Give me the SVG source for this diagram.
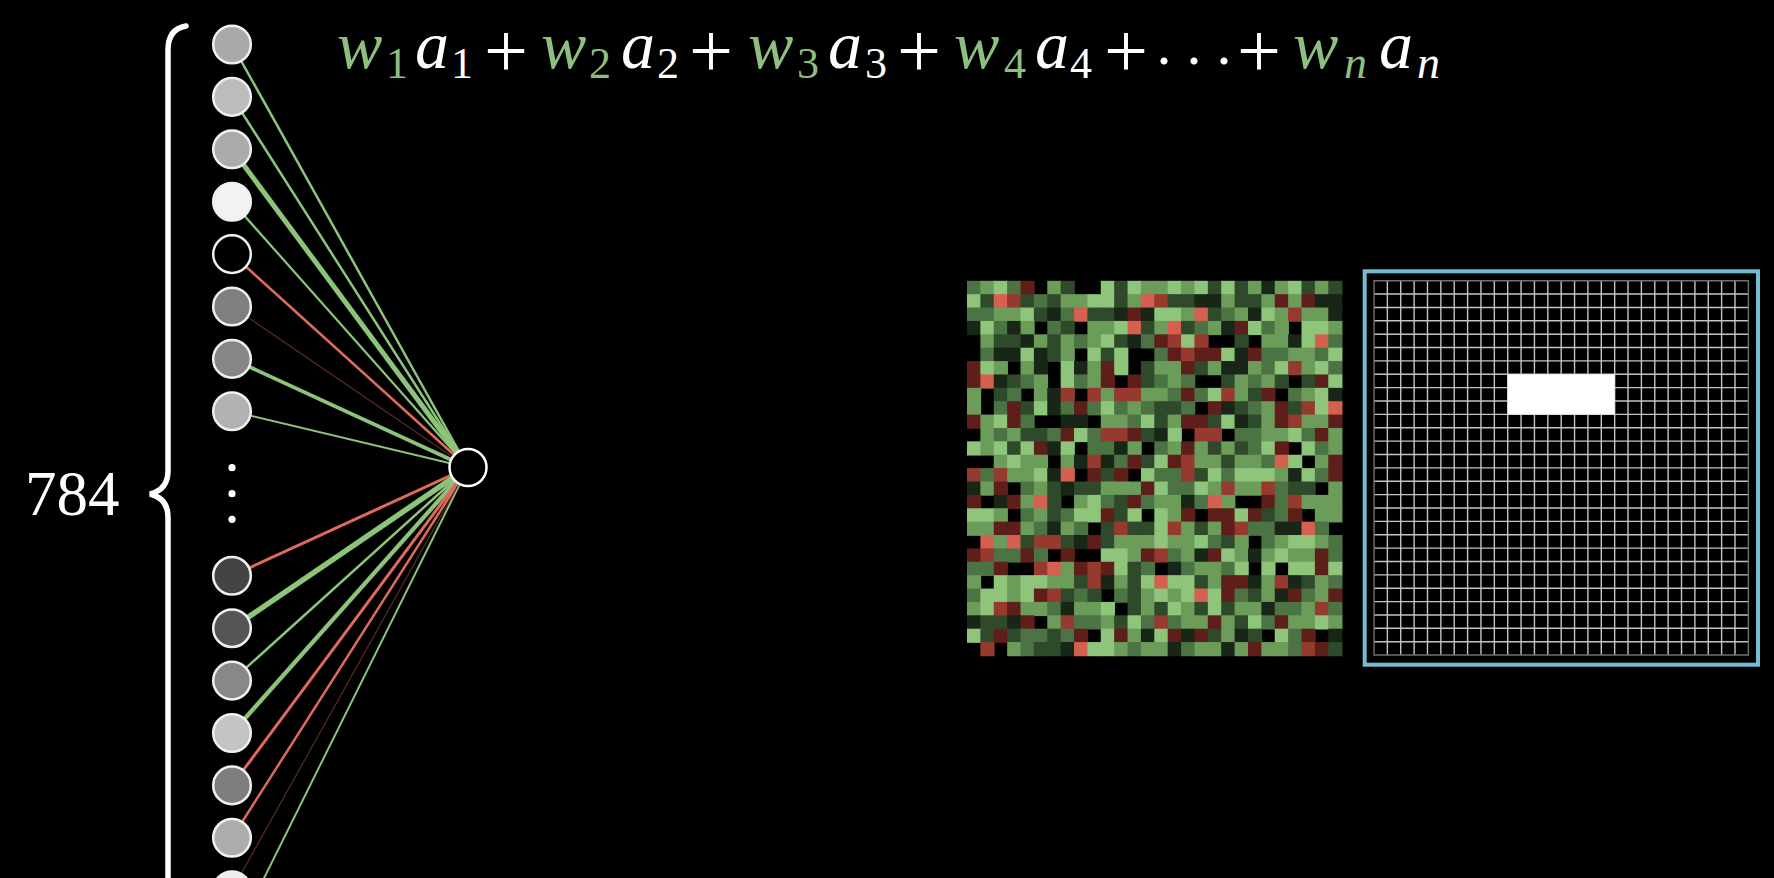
<svg xmlns="http://www.w3.org/2000/svg" width="1774" height="878" viewBox="0 0 1774 878">
<defs>
<rect id="cL" width="1.06" height="1.06" fill="#8ec57b"/>
<rect id="cM" width="1.06" height="1.06" fill="#6c9c5a"/>
<rect id="cG" width="1.06" height="1.06" fill="#4c7344"/>
<rect id="cD" width="1.06" height="1.06" fill="#2f4a2a"/>
<rect id="cK" width="1.06" height="1.06" fill="#172616"/>
<rect id="cr" width="1.06" height="1.06" fill="#5e1f1b"/>
<rect id="cR" width="1.06" height="1.06" fill="#96392f"/>
<rect id="cP" width="1.06" height="1.06" fill="#d5604f"/>
</defs>
<rect width="1774" height="878" fill="#000"/>

<text font-family="Times New Roman" fill="#fff" x="25" y="515" font-size="63">784</text>

<g font-family="Liberation Serif">
<g font-style="italic" font-size="68">
<text fill="#8fbf7e" x="337" y="68">w</text>
<text fill="#ffffff" x="415" y="68">a</text>
<text fill="#8fbf7e" x="541" y="68">w</text>
<text fill="#ffffff" x="621" y="68">a</text>
<text fill="#8fbf7e" x="748" y="68">w</text>
<text fill="#ffffff" x="828" y="68">a</text>
<text fill="#8fbf7e" x="954" y="68">w</text>
<text fill="#ffffff" x="1035" y="68">a</text>
<text fill="#8fbf7e" x="1293" y="68">w</text>
<text fill="#ffffff" x="1379" y="68">a</text>
</g>
<g font-size="44">
<text fill="#8fbf7e" x="386" y="78">1</text>
<text fill="#ffffff" x="451" y="78">1</text>
<text fill="#8fbf7e" x="589" y="78">2</text>
<text fill="#ffffff" x="657" y="78">2</text>
<text fill="#8fbf7e" x="797" y="78">3</text>
<text fill="#ffffff" x="865" y="78">3</text>
<text fill="#8fbf7e" x="1004" y="78">4</text>
<text fill="#ffffff" x="1070" y="78">4</text>
</g>
<g font-size="46" font-style="italic">
<text fill="#8fbf7e" x="1344" y="78">n</text>
<text fill="#ffffff" x="1417" y="78">n</text>
</g>
<g font-size="78" fill="#ffffff" text-anchor="middle">
<text x="506" y="77">+</text>
<text x="711" y="77">+</text>
<text x="919" y="77">+</text>
<text x="1126" y="77">+</text>
<text x="1259" y="77">+</text>
</g>
<text fill="#ffffff" x="1164 1194 1224" y="64" font-size="60" text-anchor="middle">...</text>
</g>

<g id="connectors" fill="none">
<g stroke="#8cc47a">
<line stroke-width="2.5" x1="232" y1="44.5" x2="468" y2="467.5"/>
<line stroke-width="2.5" x1="232" y1="96.9" x2="468" y2="467.5"/>
<line stroke-width="5" x1="232" y1="149.3" x2="468" y2="467.5"/>
<line stroke-width="2.2" x1="232" y1="201.7" x2="468" y2="467.5"/>
<line stroke-width="3.8" x1="232" y1="358.9" x2="468" y2="467.5"/>
<line stroke-width="1.8" x1="232" y1="411.3" x2="468" y2="467.5"/>
<line stroke-width="5.5" x1="232" y1="628.2" x2="468" y2="467.5"/>
<line stroke-width="2.5" x1="232" y1="680.6" x2="468" y2="467.5"/>
<line stroke-width="4.2" x1="232" y1="733" x2="468" y2="467.5"/>
<line stroke-width="2" x1="232" y1="942.6" x2="468" y2="467.5"/>
</g>
<g stroke="#dd6b5c">
<line stroke-width="2.5" x1="232" y1="254.1" x2="468" y2="467.5"/>
<line stroke-width="3" x1="232" y1="575.8" x2="468" y2="467.5"/>
<line stroke-width="3" x1="232" y1="785.4" x2="468" y2="467.5"/>
<line stroke-width="2.5" x1="232" y1="837.8" x2="468" y2="467.5"/>
</g>
<g stroke="#5a2b27" stroke-width="1.2">
<line x1="232" y1="306.5" x2="468" y2="467.5"/>
<line x1="232" y1="890.2" x2="468" y2="467.5"/>
</g>
</g>

<g id="inputs" stroke="#f0f0f0" stroke-width="2.5">
<circle id="in0" cx="232" cy="44.5" r="18.8" fill="#a9a9a9"/>
<circle id="in1" cx="232" cy="96.9" r="18.8" fill="#bcbcbc"/>
<circle id="in2" cx="232" cy="149.3" r="18.8" fill="#ababab"/>
<circle id="in3" cx="232" cy="201.7" r="18.8" fill="#f3f3f3"/>
<circle id="in4" cx="232" cy="254.1" r="18.8" fill="#000000"/>
<circle id="in5" cx="232" cy="306.5" r="18.8" fill="#7f7f7f"/>
<circle id="in6" cx="232" cy="358.9" r="18.8" fill="#868686"/>
<circle id="in7" cx="232" cy="411.3" r="18.8" fill="#b2b2b2"/>
<circle id="in8" cx="232" cy="575.8" r="18.8" fill="#444444"/>
<circle id="in9" cx="232" cy="628.2" r="18.8" fill="#555555"/>
<circle id="in10" cx="232" cy="680.6" r="18.8" fill="#888888"/>
<circle id="in11" cx="232" cy="733" r="18.8" fill="#c4c4c4"/>
<circle id="in12" cx="232" cy="785.4" r="18.8" fill="#7e7e7e"/>
<circle id="in13" cx="232" cy="837.8" r="18.8" fill="#acacac"/>
<circle id="in14" cx="232" cy="890.2" r="18.8" fill="#eeeeee"/>
</g>

<g id="vdots" fill="#fff">
<circle cx="232" cy="467.7" r="3.6"/>
<circle cx="232" cy="493.7" r="3.6"/>
<circle cx="232" cy="519.3" r="3.6"/>
</g>

<g id="out">
<circle cx="468" cy="467.5" r="18.5" fill="#000" stroke="#fff" stroke-width="2.5"/>
</g>

<g id="brace">
<path d="M186 26 C174 28 168 36 168 50 V471 C168 484 162 491 150 494 C162 497 168 504 168 517 V885" fill="none" stroke="#fff" stroke-width="5.5" stroke-linecap="round"/>
</g>

<g id="weights" transform="translate(967 280.8) scale(13.38)">
<g><use href="#cG" x="0"/><use href="#cM" x="1"/><use href="#cL" x="2"/><use href="#cG" x="3"/><use href="#cr" x="4"/><use href="#cM" x="6"/><use href="#cD" x="7"/><use href="#cL" x="10"/><use href="#cD" x="11"/><use href="#cL" x="12"/><use href="#cM" x="13"/><use href="#cM" x="14"/><use href="#cL" x="15"/><use href="#cM" x="16"/><use href="#cL" x="17"/><use href="#cD" x="18"/><use href="#cL" x="19"/><use href="#cD" x="20"/><use href="#cM" x="21"/><use href="#cK" x="22"/><use href="#cM" x="23"/><use href="#cL" x="24"/><use href="#cD" x="25"/><use href="#cM" x="26"/><use href="#cD" x="27"/></g>
<g transform="translate(0 1)"><use href="#cL" x="0"/><use href="#cD" x="1"/><use href="#cP" x="2"/><use href="#cR" x="3"/><use href="#cD" x="4"/><use href="#cG" x="5"/><use href="#cD" x="6"/><use href="#cM" x="7"/><use href="#cM" x="8"/><use href="#cL" x="9"/><use href="#cL" x="10"/><use href="#cD" x="11"/><use href="#cM" x="12"/><use href="#cP" x="13"/><use href="#cR" x="14"/><use href="#cD" x="15"/><use href="#cD" x="16"/><use href="#cK" x="17"/><use href="#cK" x="18"/><use href="#cM" x="19"/><use href="#cD" x="20"/><use href="#cD" x="21"/><use href="#cM" x="22"/><use href="#cr" x="23"/><use href="#cM" x="24"/><use href="#cr" x="25"/><use href="#cK" x="26"/><use href="#cK" x="27"/></g>
<g transform="translate(0 2)"><use href="#cG" x="0"/><use href="#cG" x="1"/><use href="#cM" x="2"/><use href="#cM" x="3"/><use href="#cL" x="4"/><use href="#cD" x="5"/><use href="#cK" x="6"/><use href="#cG" x="7"/><use href="#cP" x="8"/><use href="#cD" x="9"/><use href="#cD" x="10"/><use href="#cK" x="11"/><use href="#cr" x="12"/><use href="#cK" x="13"/><use href="#cL" x="14"/><use href="#cL" x="15"/><use href="#cM" x="16"/><use href="#cP" x="17"/><use href="#cD" x="18"/><use href="#cG" x="19"/><use href="#cM" x="20"/><use href="#cK" x="21"/><use href="#cL" x="22"/><use href="#cM" x="23"/><use href="#cR" x="24"/><use href="#cM" x="25"/><use href="#cM" x="26"/><use href="#cK" x="27"/></g>
<g transform="translate(0 3)"><use href="#cK" x="0"/><use href="#cL" x="1"/><use href="#cG" x="2"/><use href="#cK" x="3"/><use href="#cM" x="4"/><use href="#cG" x="6"/><use href="#cD" x="7"/><use href="#cM" x="9"/><use href="#cM" x="10"/><use href="#cL" x="11"/><use href="#cP" x="12"/><use href="#cD" x="13"/><use href="#cM" x="14"/><use href="#cP" x="15"/><use href="#cD" x="16"/><use href="#cG" x="17"/><use href="#cM" x="18"/><use href="#cK" x="19"/><use href="#cr" x="20"/><use href="#cL" x="21"/><use href="#cG" x="22"/><use href="#cM" x="23"/><use href="#cL" x="25"/><use href="#cL" x="26"/><use href="#cM" x="27"/></g>
<g transform="translate(0 4)"><use href="#cM" x="1"/><use href="#cD" x="2"/><use href="#cD" x="3"/><use href="#cK" x="4"/><use href="#cM" x="5"/><use href="#cD" x="6"/><use href="#cM" x="7"/><use href="#cG" x="8"/><use href="#cM" x="9"/><use href="#cL" x="10"/><use href="#cD" x="11"/><use href="#cK" x="12"/><use href="#cG" x="13"/><use href="#cr" x="14"/><use href="#cR" x="15"/><use href="#cL" x="16"/><use href="#cR" x="17"/><use href="#cD" x="20"/><use href="#cM" x="22"/><use href="#cM" x="23"/><use href="#cK" x="24"/><use href="#cL" x="25"/><use href="#cP" x="26"/><use href="#cG" x="27"/></g>
<g transform="translate(0 5)"><use href="#cG" x="1"/><use href="#cK" x="2"/><use href="#cK" x="3"/><use href="#cL" x="4"/><use href="#cK" x="5"/><use href="#cD" x="6"/><use href="#cM" x="7"/><use href="#cL" x="9"/><use href="#cD" x="10"/><use href="#cL" x="11"/><use href="#cG" x="14"/><use href="#cr" x="15"/><use href="#cR" x="16"/><use href="#cr" x="17"/><use href="#cr" x="18"/><use href="#cL" x="19"/><use href="#cK" x="20"/><use href="#cr" x="21"/><use href="#cG" x="22"/><use href="#cG" x="23"/><use href="#cM" x="24"/><use href="#cM" x="25"/><use href="#cG" x="26"/><use href="#cL" x="27"/></g>
<g transform="translate(0 6)"><use href="#cr" x="0"/><use href="#cL" x="1"/><use href="#cM" x="2"/><use href="#cM" x="4"/><use href="#cK" x="5"/><use href="#cL" x="7"/><use href="#cK" x="8"/><use href="#cM" x="9"/><use href="#cr" x="10"/><use href="#cL" x="11"/><use href="#cD" x="13"/><use href="#cM" x="14"/><use href="#cM" x="15"/><use href="#cr" x="16"/><use href="#cD" x="17"/><use href="#cM" x="18"/><use href="#cK" x="19"/><use href="#cK" x="20"/><use href="#cM" x="21"/><use href="#cG" x="22"/><use href="#cL" x="23"/><use href="#cR" x="24"/><use href="#cM" x="25"/><use href="#cL" x="26"/><use href="#cG" x="27"/></g>
<g transform="translate(0 7)"><use href="#cr" x="0"/><use href="#cP" x="1"/><use href="#cK" x="2"/><use href="#cD" x="3"/><use href="#cG" x="4"/><use href="#cM" x="5"/><use href="#cL" x="7"/><use href="#cG" x="8"/><use href="#cM" x="9"/><use href="#cr" x="10"/><use href="#cr" x="12"/><use href="#cD" x="13"/><use href="#cG" x="14"/><use href="#cM" x="15"/><use href="#cG" x="16"/><use href="#cD" x="19"/><use href="#cM" x="20"/><use href="#cG" x="21"/><use href="#cM" x="22"/><use href="#cD" x="23"/><use href="#cD" x="25"/><use href="#cr" x="26"/><use href="#cL" x="27"/></g>
<g transform="translate(0 8)"><use href="#cM" x="0"/><use href="#cD" x="2"/><use href="#cG" x="3"/><use href="#cM" x="5"/><use href="#cK" x="6"/><use href="#cR" x="7"/><use href="#cR" x="9"/><use href="#cM" x="10"/><use href="#cR" x="11"/><use href="#cR" x="12"/><use href="#cM" x="13"/><use href="#cM" x="14"/><use href="#cG" x="15"/><use href="#cr" x="16"/><use href="#cG" x="17"/><use href="#cL" x="18"/><use href="#cR" x="19"/><use href="#cM" x="20"/><use href="#cD" x="21"/><use href="#cr" x="22"/><use href="#cG" x="24"/><use href="#cM" x="25"/><use href="#cL" x="26"/><use href="#cK" x="27"/></g>
<g transform="translate(0 9)"><use href="#cM" x="0"/><use href="#cG" x="2"/><use href="#cr" x="3"/><use href="#cD" x="4"/><use href="#cL" x="5"/><use href="#cK" x="6"/><use href="#cG" x="7"/><use href="#cr" x="8"/><use href="#cG" x="9"/><use href="#cL" x="10"/><use href="#cG" x="11"/><use href="#cM" x="12"/><use href="#cG" x="13"/><use href="#cD" x="14"/><use href="#cD" x="15"/><use href="#cG" x="16"/><use href="#cr" x="18"/><use href="#cK" x="19"/><use href="#cD" x="20"/><use href="#cG" x="21"/><use href="#cM" x="22"/><use href="#cr" x="23"/><use href="#cD" x="24"/><use href="#cR" x="25"/><use href="#cL" x="26"/><use href="#cP" x="27"/></g>
<g transform="translate(0 10)"><use href="#cr" x="0"/><use href="#cM" x="1"/><use href="#cL" x="2"/><use href="#cr" x="3"/><use href="#cG" x="4"/><use href="#cK" x="7"/><use href="#cK" x="8"/><use href="#cM" x="10"/><use href="#cM" x="11"/><use href="#cG" x="12"/><use href="#cL" x="13"/><use href="#cD" x="14"/><use href="#cM" x="15"/><use href="#cr" x="16"/><use href="#cr" x="17"/><use href="#cD" x="18"/><use href="#cL" x="19"/><use href="#cK" x="20"/><use href="#cD" x="21"/><use href="#cM" x="22"/><use href="#cr" x="23"/><use href="#cR" x="24"/><use href="#cM" x="25"/><use href="#cM" x="26"/><use href="#cr" x="27"/></g>
<g transform="translate(0 11)"><use href="#cM" x="1"/><use href="#cG" x="2"/><use href="#cM" x="3"/><use href="#cD" x="4"/><use href="#cD" x="5"/><use href="#cG" x="6"/><use href="#cr" x="7"/><use href="#cL" x="8"/><use href="#cG" x="9"/><use href="#cR" x="10"/><use href="#cR" x="11"/><use href="#cr" x="12"/><use href="#cD" x="13"/><use href="#cK" x="14"/><use href="#cL" x="15"/><use href="#cR" x="17"/><use href="#cR" x="18"/><use href="#cG" x="20"/><use href="#cG" x="21"/><use href="#cM" x="22"/><use href="#cM" x="23"/><use href="#cL" x="24"/><use href="#cG" x="25"/><use href="#cr" x="26"/><use href="#cM" x="27"/></g>
<g transform="translate(0 12)"><use href="#cL" x="0"/><use href="#cM" x="1"/><use href="#cL" x="2"/><use href="#cD" x="3"/><use href="#cL" x="4"/><use href="#cr" x="5"/><use href="#cK" x="6"/><use href="#cL" x="7"/><use href="#cG" x="9"/><use href="#cG" x="10"/><use href="#cK" x="11"/><use href="#cM" x="12"/><use href="#cG" x="14"/><use href="#cM" x="15"/><use href="#cr" x="16"/><use href="#cM" x="17"/><use href="#cD" x="18"/><use href="#cM" x="19"/><use href="#cD" x="20"/><use href="#cG" x="21"/><use href="#cL" x="22"/><use href="#cr" x="23"/><use href="#cL" x="25"/><use href="#cG" x="26"/><use href="#cM" x="27"/></g>
<g transform="translate(0 13)"><use href="#cM" x="2"/><use href="#cL" x="3"/><use href="#cM" x="4"/><use href="#cM" x="5"/><use href="#cM" x="7"/><use href="#cK" x="8"/><use href="#cR" x="9"/><use href="#cK" x="10"/><use href="#cG" x="11"/><use href="#cr" x="12"/><use href="#cD" x="13"/><use href="#cL" x="14"/><use href="#cr" x="15"/><use href="#cR" x="16"/><use href="#cM" x="17"/><use href="#cM" x="18"/><use href="#cD" x="19"/><use href="#cM" x="20"/><use href="#cM" x="21"/><use href="#cG" x="22"/><use href="#cP" x="23"/><use href="#cL" x="24"/><use href="#cM" x="26"/><use href="#cr" x="27"/></g>
<g transform="translate(0 14)"><use href="#cR" x="0"/><use href="#cG" x="1"/><use href="#cR" x="2"/><use href="#cM" x="3"/><use href="#cM" x="4"/><use href="#cL" x="5"/><use href="#cK" x="6"/><use href="#cP" x="7"/><use href="#cr" x="9"/><use href="#cD" x="10"/><use href="#cr" x="11"/><use href="#cL" x="13"/><use href="#cG" x="14"/><use href="#cG" x="15"/><use href="#cR" x="16"/><use href="#cD" x="17"/><use href="#cL" x="18"/><use href="#cG" x="19"/><use href="#cL" x="20"/><use href="#cL" x="21"/><use href="#cL" x="22"/><use href="#cM" x="23"/><use href="#cK" x="24"/><use href="#cL" x="25"/><use href="#cG" x="26"/><use href="#cr" x="27"/></g>
<g transform="translate(0 15)"><use href="#cK" x="0"/><use href="#cM" x="1"/><use href="#cr" x="2"/><use href="#cG" x="4"/><use href="#cM" x="5"/><use href="#cD" x="6"/><use href="#cK" x="7"/><use href="#cD" x="8"/><use href="#cD" x="9"/><use href="#cM" x="10"/><use href="#cM" x="11"/><use href="#cM" x="12"/><use href="#cr" x="13"/><use href="#cL" x="14"/><use href="#cG" x="15"/><use href="#cG" x="16"/><use href="#cL" x="17"/><use href="#cM" x="18"/><use href="#cR" x="19"/><use href="#cM" x="20"/><use href="#cM" x="21"/><use href="#cR" x="22"/><use href="#cG" x="23"/><use href="#cD" x="24"/><use href="#cD" x="25"/><use href="#cM" x="27"/></g>
<g transform="translate(0 16)"><use href="#cr" x="0"/><use href="#cK" x="2"/><use href="#cr" x="3"/><use href="#cM" x="4"/><use href="#cP" x="5"/><use href="#cD" x="6"/><use href="#cM" x="8"/><use href="#cL" x="9"/><use href="#cG" x="10"/><use href="#cD" x="11"/><use href="#cr" x="12"/><use href="#cG" x="13"/><use href="#cM" x="14"/><use href="#cM" x="15"/><use href="#cK" x="16"/><use href="#cG" x="17"/><use href="#cP" x="18"/><use href="#cM" x="19"/><use href="#cr" x="22"/><use href="#cG" x="23"/><use href="#cR" x="24"/><use href="#cM" x="25"/><use href="#cM" x="26"/><use href="#cM" x="27"/></g>
<g transform="translate(0 17)"><use href="#cL" x="0"/><use href="#cL" x="1"/><use href="#cM" x="2"/><use href="#cG" x="4"/><use href="#cM" x="5"/><use href="#cD" x="6"/><use href="#cG" x="7"/><use href="#cL" x="8"/><use href="#cL" x="9"/><use href="#cr" x="10"/><use href="#cD" x="11"/><use href="#cL" x="12"/><use href="#cL" x="14"/><use href="#cM" x="15"/><use href="#cr" x="16"/><use href="#cr" x="18"/><use href="#cr" x="19"/><use href="#cL" x="20"/><use href="#cr" x="21"/><use href="#cD" x="22"/><use href="#cG" x="23"/><use href="#cr" x="24"/><use href="#cM" x="26"/><use href="#cM" x="27"/></g>
<g transform="translate(0 18)"><use href="#cM" x="0"/><use href="#cM" x="1"/><use href="#cr" x="2"/><use href="#cr" x="3"/><use href="#cM" x="4"/><use href="#cG" x="5"/><use href="#cK" x="6"/><use href="#cM" x="7"/><use href="#cG" x="8"/><use href="#cD" x="10"/><use href="#cR" x="11"/><use href="#cD" x="12"/><use href="#cD" x="13"/><use href="#cL" x="14"/><use href="#cR" x="15"/><use href="#cM" x="16"/><use href="#cD" x="17"/><use href="#cM" x="18"/><use href="#cr" x="19"/><use href="#cR" x="20"/><use href="#cG" x="21"/><use href="#cG" x="22"/><use href="#cK" x="23"/><use href="#cK" x="24"/><use href="#cP" x="25"/><use href="#cG" x="26"/></g>
<g transform="translate(0 19)"><use href="#cP" x="1"/><use href="#cM" x="2"/><use href="#cP" x="3"/><use href="#cD" x="4"/><use href="#cR" x="5"/><use href="#cR" x="6"/><use href="#cD" x="7"/><use href="#cK" x="8"/><use href="#cr" x="9"/><use href="#cD" x="10"/><use href="#cM" x="11"/><use href="#cM" x="12"/><use href="#cM" x="13"/><use href="#cL" x="14"/><use href="#cM" x="15"/><use href="#cM" x="16"/><use href="#cL" x="17"/><use href="#cG" x="18"/><use href="#cD" x="19"/><use href="#cM" x="20"/><use href="#cG" x="22"/><use href="#cM" x="23"/><use href="#cL" x="24"/><use href="#cL" x="25"/><use href="#cM" x="26"/><use href="#cG" x="27"/></g>
<g transform="translate(0 20)"><use href="#cr" x="0"/><use href="#cR" x="1"/><use href="#cG" x="2"/><use href="#cG" x="3"/><use href="#cr" x="4"/><use href="#cG" x="5"/><use href="#cr" x="7"/><use href="#cL" x="10"/><use href="#cL" x="11"/><use href="#cM" x="12"/><use href="#cr" x="13"/><use href="#cR" x="14"/><use href="#cG" x="15"/><use href="#cM" x="16"/><use href="#cK" x="17"/><use href="#cr" x="18"/><use href="#cL" x="19"/><use href="#cM" x="20"/><use href="#cK" x="21"/><use href="#cM" x="22"/><use href="#cL" x="23"/><use href="#cM" x="24"/><use href="#cM" x="25"/><use href="#cr" x="26"/><use href="#cG" x="27"/></g>
<g transform="translate(0 21)"><use href="#cG" x="0"/><use href="#cG" x="1"/><use href="#cr" x="2"/><use href="#cR" x="5"/><use href="#cP" x="6"/><use href="#cM" x="7"/><use href="#cr" x="8"/><use href="#cR" x="9"/><use href="#cr" x="10"/><use href="#cL" x="11"/><use href="#cD" x="12"/><use href="#cG" x="13"/><use href="#cK" x="15"/><use href="#cG" x="16"/><use href="#cM" x="17"/><use href="#cM" x="18"/><use href="#cG" x="19"/><use href="#cL" x="20"/><use href="#cL" x="22"/><use href="#cL" x="24"/><use href="#cL" x="25"/><use href="#cr" x="26"/><use href="#cL" x="27"/></g>
<g transform="translate(0 22)"><use href="#cM" x="0"/><use href="#cL" x="2"/><use href="#cM" x="3"/><use href="#cL" x="4"/><use href="#cL" x="5"/><use href="#cM" x="6"/><use href="#cM" x="7"/><use href="#cD" x="8"/><use href="#cR" x="9"/><use href="#cK" x="10"/><use href="#cM" x="11"/><use href="#cD" x="12"/><use href="#cL" x="13"/><use href="#cP" x="14"/><use href="#cL" x="15"/><use href="#cL" x="16"/><use href="#cD" x="17"/><use href="#cM" x="18"/><use href="#cr" x="19"/><use href="#cr" x="20"/><use href="#cK" x="21"/><use href="#cM" x="22"/><use href="#cR" x="23"/><use href="#cK" x="24"/><use href="#cD" x="25"/><use href="#cM" x="26"/><use href="#cG" x="27"/></g>
<g transform="translate(0 23)"><use href="#cG" x="0"/><use href="#cL" x="1"/><use href="#cL" x="2"/><use href="#cM" x="3"/><use href="#cL" x="4"/><use href="#cr" x="5"/><use href="#cR" x="6"/><use href="#cD" x="7"/><use href="#cG" x="8"/><use href="#cD" x="9"/><use href="#cG" x="11"/><use href="#cD" x="12"/><use href="#cM" x="13"/><use href="#cL" x="14"/><use href="#cM" x="15"/><use href="#cL" x="16"/><use href="#cP" x="17"/><use href="#cL" x="18"/><use href="#cr" x="19"/><use href="#cG" x="20"/><use href="#cD" x="21"/><use href="#cM" x="22"/><use href="#cK" x="23"/><use href="#cr" x="24"/><use href="#cG" x="25"/><use href="#cM" x="26"/><use href="#cr" x="27"/></g>
<g transform="translate(0 24)"><use href="#cM" x="0"/><use href="#cL" x="1"/><use href="#cR" x="2"/><use href="#cr" x="3"/><use href="#cM" x="4"/><use href="#cM" x="5"/><use href="#cG" x="6"/><use href="#cK" x="7"/><use href="#cM" x="8"/><use href="#cM" x="9"/><use href="#cL" x="10"/><use href="#cD" x="12"/><use href="#cM" x="13"/><use href="#cD" x="14"/><use href="#cL" x="15"/><use href="#cM" x="16"/><use href="#cD" x="17"/><use href="#cL" x="18"/><use href="#cD" x="19"/><use href="#cM" x="20"/><use href="#cM" x="21"/><use href="#cK" x="22"/><use href="#cG" x="23"/><use href="#cG" x="24"/><use href="#cM" x="25"/><use href="#cR" x="26"/><use href="#cG" x="27"/></g>
<g transform="translate(0 25)"><use href="#cK" x="0"/><use href="#cD" x="1"/><use href="#cD" x="2"/><use href="#cK" x="3"/><use href="#cr" x="4"/><use href="#cM" x="6"/><use href="#cR" x="7"/><use href="#cG" x="8"/><use href="#cG" x="9"/><use href="#cM" x="10"/><use href="#cD" x="11"/><use href="#cL" x="12"/><use href="#cG" x="13"/><use href="#cR" x="14"/><use href="#cG" x="15"/><use href="#cM" x="16"/><use href="#cM" x="17"/><use href="#cr" x="18"/><use href="#cM" x="19"/><use href="#cD" x="20"/><use href="#cL" x="21"/><use href="#cG" x="22"/><use href="#cr" x="23"/><use href="#cM" x="24"/><use href="#cM" x="25"/><use href="#cL" x="26"/><use href="#cM" x="27"/></g>
<g transform="translate(0 26)"><use href="#cL" x="0"/><use href="#cD" x="1"/><use href="#cr" x="2"/><use href="#cD" x="3"/><use href="#cG" x="4"/><use href="#cG" x="5"/><use href="#cD" x="6"/><use href="#cG" x="7"/><use href="#cr" x="8"/><use href="#cL" x="10"/><use href="#cr" x="11"/><use href="#cM" x="12"/><use href="#cK" x="13"/><use href="#cL" x="14"/><use href="#cr" x="15"/><use href="#cK" x="16"/><use href="#cr" x="17"/><use href="#cD" x="18"/><use href="#cM" x="19"/><use href="#cK" x="20"/><use href="#cD" x="21"/><use href="#cL" x="23"/><use href="#cG" x="24"/><use href="#cr" x="25"/><use href="#cK" x="27"/></g>
<g transform="translate(0 27)"><use href="#cR" x="1"/><use href="#cM" x="3"/><use href="#cG" x="4"/><use href="#cD" x="5"/><use href="#cD" x="6"/><use href="#cK" x="7"/><use href="#cP" x="8"/><use href="#cL" x="9"/><use href="#cL" x="10"/><use href="#cM" x="11"/><use href="#cG" x="12"/><use href="#cM" x="13"/><use href="#cM" x="14"/><use href="#cK" x="15"/><use href="#cG" x="16"/><use href="#cM" x="17"/><use href="#cM" x="18"/><use href="#cK" x="19"/><use href="#cM" x="20"/><use href="#cr" x="21"/><use href="#cM" x="22"/><use href="#cM" x="23"/><use href="#cG" x="24"/><use href="#cR" x="25"/><use href="#cr" x="26"/><use href="#cD" x="27"/></g>
</g>

<g id="image">
<rect x="1364.7" y="271.3" width="393.3" height="393.4" fill="none" stroke="#74bcd2" stroke-width="4"/>
<g transform="translate(1374 280.7) scale(13.37)">
<path d="M1 0V28M2 0V28M3 0V28M4 0V28M5 0V28M6 0V28M7 0V28M8 0V28M9 0V28M10 0V28M11 0V28M12 0V28M13 0V28M14 0V28M15 0V28M16 0V28M17 0V28M18 0V28M19 0V28M20 0V28M21 0V28M22 0V28M23 0V28M24 0V28M25 0V28M26 0V28M27 0V28M0 1H28M0 2H28M0 3H28M0 4H28M0 5H28M0 6H28M0 7H28M0 8H28M0 9H28M0 10H28M0 11H28M0 12H28M0 13H28M0 14H28M0 15H28M0 16H28M0 17H28M0 18H28M0 19H28M0 20H28M0 21H28M0 22H28M0 23H28M0 24H28M0 25H28M0 26H28M0 27H28" fill="none" stroke="#c4c4c4" stroke-width="1.4" vector-effect="non-scaling-stroke"/>
<rect x="0" y="0" width="28" height="28" fill="none" stroke="#707070" stroke-width="1.4" vector-effect="non-scaling-stroke"/>
<rect x="10" y="7" width="8" height="3" fill="#ffffff"/>
</g>
</g>
</svg>
